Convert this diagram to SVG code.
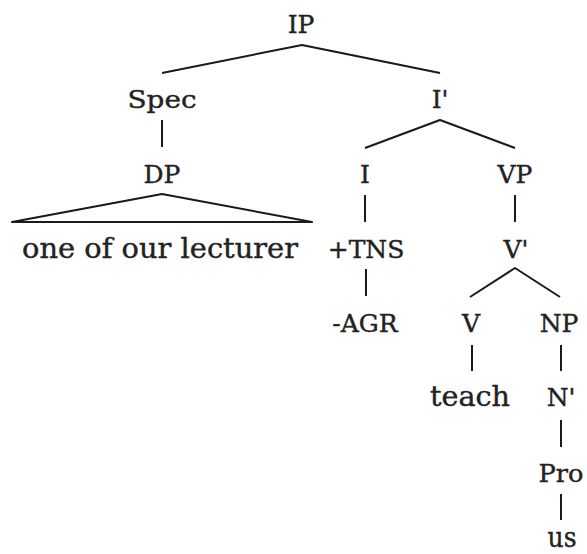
<svg xmlns="http://www.w3.org/2000/svg" width="587" height="554" viewBox="0 0 587 554">
<style>
  text { font-family: "DejaVu Serif", "Liberation Serif", serif; font-size: 25px; fill: #222; stroke: #222; stroke-width: 0.4; text-anchor: middle; }
  text.lc { font-size: 27px; }
  .edge { stroke: #1a1a1a; stroke-width: 2; fill: none; stroke-linejoin: round; }
</style>
<rect width="587" height="554" fill="#ffffff"/>
<g id="connectors">
  <polyline class="edge" points="162,73 302,45 440,73"/>
  <line class="edge" x1="162" y1="120" x2="162" y2="147"/>
  <polygon class="edge" points="162,194 12,222 312,222"/>
  <polyline class="edge" points="365,148 440,120 515,148"/>
  <line class="edge" x1="365" y1="195" x2="365" y2="222"/>
  <line class="edge" x1="515" y1="195" x2="515" y2="222"/>
  <line class="edge" x1="366" y1="269" x2="366" y2="296"/>
  <polyline class="edge" points="470,297 515,268 560,297"/>
  <line class="edge" x1="472" y1="345" x2="472" y2="371"/>
  <line class="edge" x1="561" y1="345" x2="561" y2="371"/>
  <line class="edge" x1="561" y1="420" x2="561" y2="447"/>
  <line class="edge" x1="561" y1="494" x2="561" y2="520"/>
</g>
<g id="n-IP"><text x="301" y="33">IP</text></g>
<g id="n-Spec"><text x="162" y="108" textLength="69" lengthAdjust="spacingAndGlyphs">Spec</text></g>
<g id="n-Ibar"><text x="440" y="108">I'</text></g>
<g id="n-DP"><text x="162" y="183">DP</text></g>
<g id="n-I"><text x="365" y="183">I</text></g>
<g id="n-VP"><text x="515" y="183">VP</text></g>
<g id="n-lecturer"><text class="lc" x="160" y="258" textLength="276" lengthAdjust="spacingAndGlyphs">one of our lecturer</text></g>
<g id="n-TNS"><text x="366" y="258">+TNS</text></g>
<g id="n-Vbar"><text x="516" y="258">V'</text></g>
<g id="n-AGR"><text x="365" y="332">-AGR</text></g>
<g id="n-V"><text x="471" y="332">V</text></g>
<g id="n-NP"><text x="559" y="332">NP</text></g>
<g id="n-teach"><text class="lc" x="470" y="406" textLength="80" lengthAdjust="spacingAndGlyphs">teach</text></g>
<g id="n-Nbar"><text x="561" y="406">N'</text></g>
<g id="n-Pro"><text x="561" y="482" textLength="45" lengthAdjust="spacingAndGlyphs">Pro</text></g>
<g id="n-us"><text class="lc" x="562" y="547" textLength="29" lengthAdjust="spacingAndGlyphs">us</text></g>
</svg>
